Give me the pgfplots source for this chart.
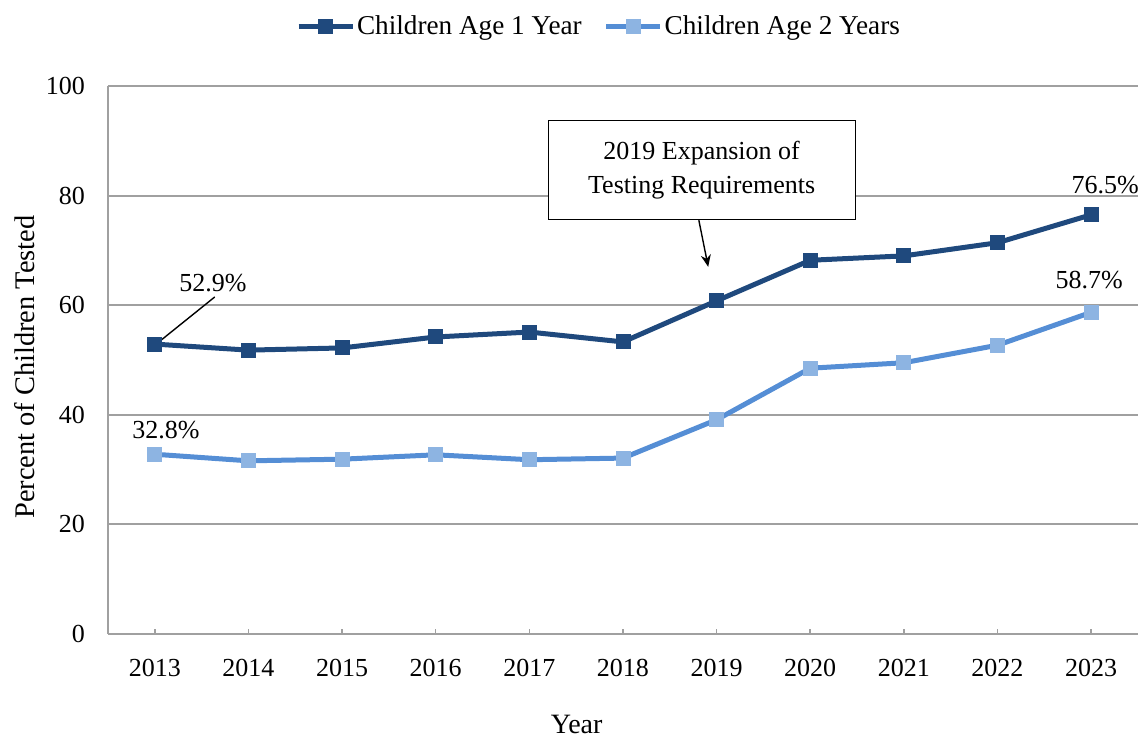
\documentclass[border=0pt]{standalone}
\usepackage{pgfplots}
\pgfplotsset{compat=1.18}
\usetikzlibrary{arrows.meta}
\usepackage{fontspec}
\setmainfont{Liberation Serif}
\definecolor{darkb}{HTML}{1F497D}
\definecolor{lightl}{HTML}{558ED5}
\definecolor{lightm}{HTML}{8DB4E2}
\definecolor{gridg}{HTML}{A0A0A0}
\begin{document}
\begin{tikzpicture}[font=\fontsize{13}{15.6}\selectfont]
\begin{axis}[
  scale only axis, width=515pt, height=274pt,
  xmin=2012.5, xmax=2023.5, ymin=0, ymax=100,
  xtick={2013,...,2023}, ytick={0,20,...,100},
  /pgf/number format/assume math mode=true,
  xticklabel={\pgfmathprintnumber[1000 sep={},fixed]{\tick}},
  axis x line*=bottom, axis y line*=left,
  axis line style={gridg, line width=1pt, -},
  ymajorgrids, grid style={gridg, line width=1pt},
  x tick style={gridg, line width=0.8pt}, major tick length=2.5pt,
  xtick pos=bottom, xtick align=inside,
  y tick style={draw=none},
  xticklabel style={yshift=-9pt},
  yticklabel style={xshift=-8pt},
  ylabel={Percent of Children Tested},
  ylabel style={at={(rel axis cs:-0.0806,0.487)}, anchor=center, font=\fontsize{14.2}{17}\selectfont},
  xlabel={Year},
  xlabel style={at={(rel axis cs:0.455,-0.166)}, anchor=center, font=\fontsize{14}{17}\selectfont},
  legend style={at={(rel axis cs:0.4767,1.109)}, anchor=center, draw=none,
    legend columns=2, column sep=0pt, font=\fontsize{13.6}{16}\selectfont,
    nodes={inner xsep=1pt},
    /tikz/every even column/.append style={column sep=10pt}},
  legend image code/.code={
    \draw[#1, mark=none] (0cm,0cm) -- (27pt,0cm);
    \draw[#1, only marks] plot coordinates {(13.5pt,0cm)};
  },
  clip=false,
]
\addplot[darkb, line width=2.5pt, mark=square*, mark size=3.5pt,
  mark options={solid, fill=darkb, draw=darkb, line width=0pt}] coordinates {
  (2013,52.9) (2014,51.8) (2015,52.2) (2016,54.2) (2017,55.1) (2018,53.3)
  (2019,60.8) (2020,68.2) (2021,69.0) (2022,71.4) (2023,76.5)};
\addlegendentry{Children Age 1 Year}
\addplot[lightl, line width=2.5pt, mark=square*, mark size=3.5pt,
  mark options={solid, fill=lightm, draw=lightm, line width=0pt}] coordinates {
  (2013,32.8) (2014,31.6) (2015,31.9) (2016,32.7) (2017,31.8) (2018,32.1)
  (2019,39.1) (2020,48.5) (2021,49.5) (2022,52.7) (2023,58.7)};
\addlegendentry{Children Age 2 Years}
\draw[black, line width=0.7pt] (axis cs:2013,52.7) -- (axis cs:2013.64,61.5);
\node[inner sep=0pt] at (axis cs:2013.62,64.05) {52.9\%};
\node[inner sep=0pt] at (axis cs:2013.12,37.2) {32.8\%};
\node[inner sep=0pt] at (axis cs:2023.15,81.9) {76.5\%};
\node[inner sep=0pt] at (axis cs:2022.98,64.6) {58.7\%};
\node[draw=black, fill=white, line width=0.6pt, minimum width=153.5pt, minimum height=49.5pt,
  align=center, inner sep=0pt] at (axis cs:2018.84,84.6)
  {2019 Expansion of\\[1.5pt]Testing Requirements};
\draw[black, line width=0.7pt, -{Stealth[length=6pt,width=5pt]}] (axis cs:2018.81,75.5) -- (axis cs:2018.91,67.0);
\end{axis}
\pgfresetboundingbox
\path (-54pt,-51.5pt) rectangle (515.5pt,317pt);
\end{tikzpicture}
\end{document}
